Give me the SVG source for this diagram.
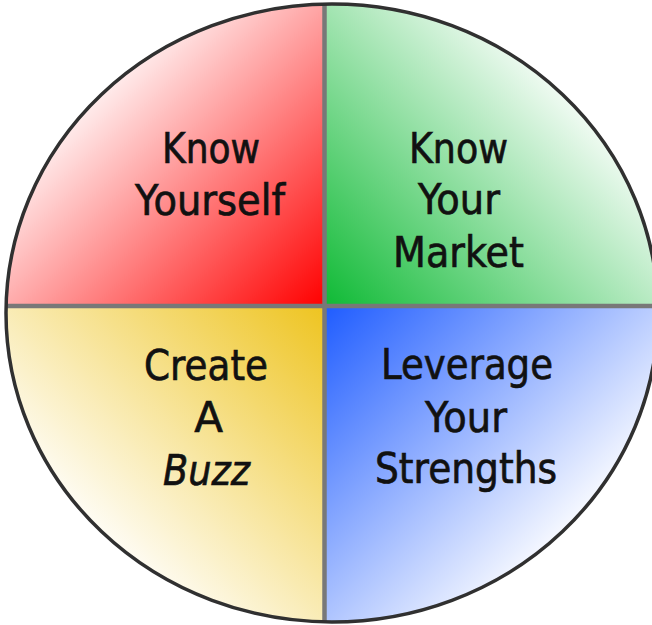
<svg xmlns="http://www.w3.org/2000/svg" width="652" height="625" viewBox="0 0 652 625">
  <style>
    .label { font-family: "DejaVu Sans", Verdana, "Liberation Sans", sans-serif; font-size: 42px; fill: #111; stroke: #111; stroke-width: 0.7; text-anchor: middle; }
    .italic { font-style: italic; }
    .divider { stroke: #787878; stroke-width: 4.5; fill: none; }
    .rim { stroke: #303030; stroke-width: 3.5; fill: none; }
  </style>
  <defs>
    <clipPath id="disc">
      <ellipse cx="332" cy="313" rx="326" ry="309"/>
    </clipPath>
    <linearGradient id="gRed" gradientUnits="userSpaceOnUse" x1="324" y1="306" x2="90" y2="70">
      <stop offset="0" stop-color="#ff0000"/>
      <stop offset="1" stop-color="#ffffff"/>
    </linearGradient>
    <linearGradient id="gGreen" gradientUnits="userSpaceOnUse" x1="325" y1="306" x2="570" y2="70">
      <stop offset="0" stop-color="#0fba35"/>
      <stop offset="1" stop-color="#ffffff"/>
    </linearGradient>
    <linearGradient id="gYellow" gradientUnits="userSpaceOnUse" x1="324" y1="306" x2="90" y2="545">
      <stop offset="0" stop-color="#eec420"/>
      <stop offset="1" stop-color="#ffffff"/>
    </linearGradient>
    <linearGradient id="gBlue" gradientUnits="userSpaceOnUse" x1="325" y1="306" x2="570" y2="545">
      <stop offset="0" stop-color="#1f5cff"/>
      <stop offset="1" stop-color="#ffffff"/>
    </linearGradient>
  </defs>

  <rect x="0" y="0" width="652" height="625" fill="#ffffff"/>

  <g clip-path="url(#disc)">
    <g id="know-yourself">
      <rect x="0" y="0" width="324.5" height="306" fill="url(#gRed)"/>
      <text class="label" x="211" y="163" textLength="98" lengthAdjust="spacingAndGlyphs">Know</text>
      <text class="label" x="210" y="215" textLength="150" lengthAdjust="spacingAndGlyphs">Yourself</text>
    </g>
    <g id="know-your-market">
      <rect x="324.5" y="0" width="330" height="306" fill="url(#gGreen)"/>
      <text class="label" x="458.5" y="163" textLength="99" lengthAdjust="spacingAndGlyphs">Know</text>
      <text class="label" x="459" y="214" textLength="82" lengthAdjust="spacingAndGlyphs">Your</text>
      <text class="label" x="458.5" y="267" textLength="131" lengthAdjust="spacingAndGlyphs">Market</text>
    </g>
    <g id="create-a-buzz">
      <rect x="0" y="306" width="324.5" height="320" fill="url(#gYellow)"/>
      <text class="label" x="206" y="380" textLength="124" lengthAdjust="spacingAndGlyphs">Create</text>
      <text class="label" x="208.5" y="432">A</text>
      <text class="label italic" x="206.5" y="485" textLength="87" lengthAdjust="spacingAndGlyphs">Buzz</text>
    </g>
    <g id="leverage-your-strengths">
      <rect x="324.5" y="306" width="330" height="320" fill="url(#gBlue)"/>
      <text class="label" x="467" y="379" textLength="172" lengthAdjust="spacingAndGlyphs">Leverage</text>
      <text class="label" x="466" y="432" textLength="82" lengthAdjust="spacingAndGlyphs">Your</text>
      <text class="label" x="466" y="483" textLength="182" lengthAdjust="spacingAndGlyphs">Strengths</text>
    </g>
    <g id="dividers">
      <line class="divider" x1="324.5" y1="0" x2="324.5" y2="625"/>
      <line class="divider" x1="0" y1="306" x2="652" y2="306"/>
    </g>
  </g>

  <ellipse class="rim" cx="332" cy="313" rx="326" ry="309"/>
</svg>
